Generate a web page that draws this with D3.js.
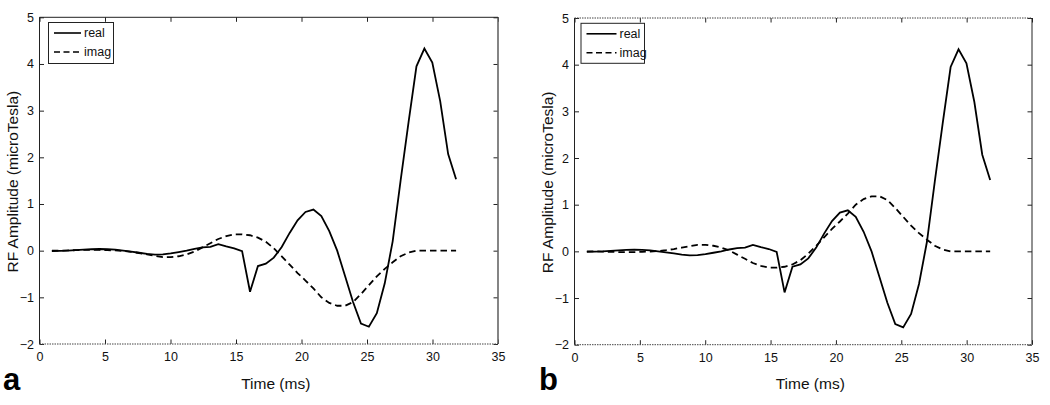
<!DOCTYPE html>
<html>
<head>
<meta charset="utf-8">
<script src="https://cdn.jsdelivr.net/npm/d3@7/dist/d3.min.js"></script>
<style>
  html, body { margin: 0; padding: 0; background: #fff; }
  svg { display: block; }
  text { font-family: "Liberation Sans", Arial, Helvetica, sans-serif; fill: #111; }
</style>
</head>
<body>
<svg id="chart" width="1050" height="405"></svg>
<script>
// ---- data ----
const times = [0.945,1.55,2.155,2.76,3.365,3.97,4.575,5.18,5.785,6.39,6.995,7.6,8.205,8.81,9.415,10.02,10.625,11.23,11.835,12.44,13.045,13.65,14.255,14.86,15.465,16.07,16.675,17.28,17.885,18.49,19.095,19.7,20.305,20.91,21.515,22.12,22.725,23.33,23.935,24.54,25.145,25.75,26.355,26.96,27.565,28.17,28.775,29.38,29.985,30.59,31.195,31.8];

const realA = [-0.01,-0.005,0.0,0.01,0.02,0.03,0.035,0.03,0.02,0.0,
  -0.02,-0.045,-0.07,-0.085,-0.08,-0.06,-0.03,0.0,0.04,0.07,
  0.08,0.14,0.09,0.05,-0.01,-0.88,-0.33,-0.28,-0.15,0.08,
  0.38,0.65,0.83,0.88,0.74,0.42,0.0,-0.55,-1.1,-1.56,
  -1.63,-1.34,-0.7,0.2,1.5,2.75,3.95,4.33,4.03,3.2,
  2.07,1.53];

const imagA = [0.0,0.0,0.005,0.01,0.015,0.015,0.015,0.01,0.005,-0.005,
  -0.025,-0.05,-0.08,-0.11,-0.14,-0.14,-0.12,-0.08,-0.02,0.07,
  0.16,0.25,0.31,0.35,0.35,0.33,0.28,0.19,0.05,-0.12,
  -0.30,-0.48,-0.64,-0.81,-1.0,-1.12,-1.18,-1.18,-1.1,-0.93,
  -0.74,-0.55,-0.39,-0.25,-0.12,-0.04,0.0,0.0,0.0,0.0,
  0.0,0.0];

const realB = realA.slice();

const imagB = [0.0,0.0,-0.005,-0.01,-0.015,-0.015,-0.015,-0.01,-0.005,0.005,
  0.025,0.05,0.08,0.11,0.14,0.14,0.12,0.08,0.02,-0.07,
  -0.16,-0.25,-0.31,-0.35,-0.35,-0.33,-0.28,-0.19,-0.05,0.12,
  0.30,0.48,0.64,0.81,1.0,1.12,1.18,1.18,1.1,0.93,
  0.74,0.55,0.39,0.25,0.12,0.04,0.0,0.0,0.0,0.0,
  0.0,0.0];

const xTicks = [0,5,10,15,20,25,30,35];
const yTicks = [-2,-1,0,1,2,3,4,5];
const xDomain = [0,35];
const yDomain = [-2,5];
const legendLabels = ["real","imag"];
const panelLabels = ["a","b"];
const xTitle = "Time (ms)";
const yTitle = "RF Amplitude (microTesla)";

// ---- drawing ----
const svg = d3.select("#chart");

function drawPanel(cfg) {
  const g = svg.append("g");
  const x = d3.scaleLinear().domain(xDomain).range([cfg.left, cfg.right]);
  const y = d3.scaleLinear().domain(yDomain).range([cfg.bottom, cfg.top]);
  const tl = 4.5;

  // axes with inward ticks
  const ax = g.append("g").attr("transform", `translate(0,${cfg.bottom})`)
    .call(d3.axisBottom(x).tickValues(xTicks).tickFormat(d3.format("d"))
      .tickSizeInner(-tl).tickSizeOuter(0).tickPadding(8.5));
  const axT = g.append("g").attr("transform", `translate(0,${cfg.top})`)
    .call(d3.axisTop(x).tickValues(xTicks).tickFormat("")
      .tickSizeInner(-tl).tickSizeOuter(0));
  const ay = g.append("g").attr("transform", `translate(${cfg.left},0)`)
    .call(d3.axisLeft(y).tickValues(yTicks).tickFormat(d => d < 0 ? "\u2212" + Math.abs(d) : d)
      .tickSizeInner(-tl).tickSizeOuter(0).tickPadding(5.5));
  const ayR = g.append("g").attr("transform", `translate(${cfg.right},0)`)
    .call(d3.axisRight(y).tickValues(yTicks).tickFormat("")
      .tickSizeInner(-tl).tickSizeOuter(0));
  [ax, axT, ay, ayR].forEach(a => {
    a.select(".domain").remove();
    a.selectAll(".tick line").attr("stroke", "#222").attr("stroke-width", 1);
    a.selectAll("text").attr("font-size", "12.5px").attr("fill", "#111")
      .style("font-family", '"Liberation Sans", Arial, sans-serif');
  });

  // box
  const W = cfg.right - cfg.left;
  g.append("line").attr("x1", cfg.left).attr("x2", cfg.left).attr("y1", cfg.top).attr("y2", cfg.bottom)
    .attr("stroke", "#222").attr("stroke-width", 1);
  g.append("line").attr("x1", cfg.right).attr("x2", cfg.right).attr("y1", cfg.top).attr("y2", cfg.bottom)
    .attr("stroke", cfg.rightColor).attr("stroke-width", cfg.rightWidth);
  g.append("line").attr("x1", cfg.left).attr("x2", cfg.right).attr("y1", cfg.top).attr("y2", cfg.top)
    .attr("stroke", cfg.topDotted ? "#444" : "#222").attr("stroke-width", 1)
    .attr("stroke-dasharray", cfg.topDotted ? "1.5,1" : null);
  g.append("line").attr("x1", cfg.left).attr("x2", cfg.right).attr("y1", cfg.bottom).attr("y2", cfg.bottom)
    .attr("stroke", "#444").attr("stroke-width", 1).attr("stroke-dasharray", "1.5,1");

  // lines
  const line = d3.line().x((d, i) => x(times[i])).y(d => y(d));
  g.append("path").datum(cfg.imag).attr("d", line).attr("fill", "none")
    .attr("stroke", "#000").attr("stroke-width", 1.8).attr("stroke-dasharray", "6.5,4");
  g.append("path").datum(cfg.real).attr("d", line).attr("fill", "none")
    .attr("stroke", "#000").attr("stroke-width", 1.8).attr("stroke-linejoin", "miter");

  // legend
  const L = cfg.legend;
  g.append("rect").attr("x", L.x).attr("y", L.y).attr("width", L.w).attr("height", L.h)
    .attr("fill", "#fff").attr("stroke", "#222").attr("stroke-width", 1);
  legendLabels.forEach((lab, i) => {
    const yy = L.y + 10.5 + i * 19;
    g.append("line").attr("x1", L.x + 5.5).attr("x2", L.x + 5.5 + L.lineLen)
      .attr("y1", yy).attr("y2", yy).attr("stroke", "#000").attr("stroke-width", 1.6)
      .attr("stroke-dasharray", i === 1 ? "6,3.5" : null);
    g.append("text").attr("x", L.x + 8.5 + L.lineLen).attr("y", yy).attr("dy", "0.35em")
      .attr("font-size", "12.5px").text(lab);
  });

  // titles
  g.append("text").attr("x", (cfg.left + cfg.right) / 2 + 7).attr("y", 389)
    .attr("text-anchor", "middle").attr("font-size", "15.5px").text(xTitle);
  g.append("text").attr("transform", `translate(${cfg.left - 22},${(cfg.top + cfg.bottom) / 2 + 1}) rotate(-90)`)
    .attr("text-anchor", "middle").attr("font-size", "15.5px").text(yTitle);

  // panel letter
  g.append("text").attr("x", cfg.letterX).attr("y", 390).attr("font-size", "31px")
    .attr("font-weight", "bold").style("fill", "#000").text(cfg.letter);
}

drawPanel({ left: 39.5, right: 498, top: 17.3, bottom: 344, real: realA, imag: imagA,
  topDotted: false, rightColor: "#666", rightWidth: 1.6,
  legend: { x: 48.5, y: 22.5, w: 65, h: 41, lineLen: 27 }, letter: panelLabels[0], letterX: 3 });
drawPanel({ left: 574.5, right: 1032, top: 18, bottom: 344.7, real: realB, imag: imagB,
  topDotted: true, rightColor: "#222", rightWidth: 1,
  legend: { x: 581, y: 23.3, w: 63.5, h: 40, lineLen: 30 }, letter: panelLabels[1], letterX: 539 });
</script>
</body>
</html>
